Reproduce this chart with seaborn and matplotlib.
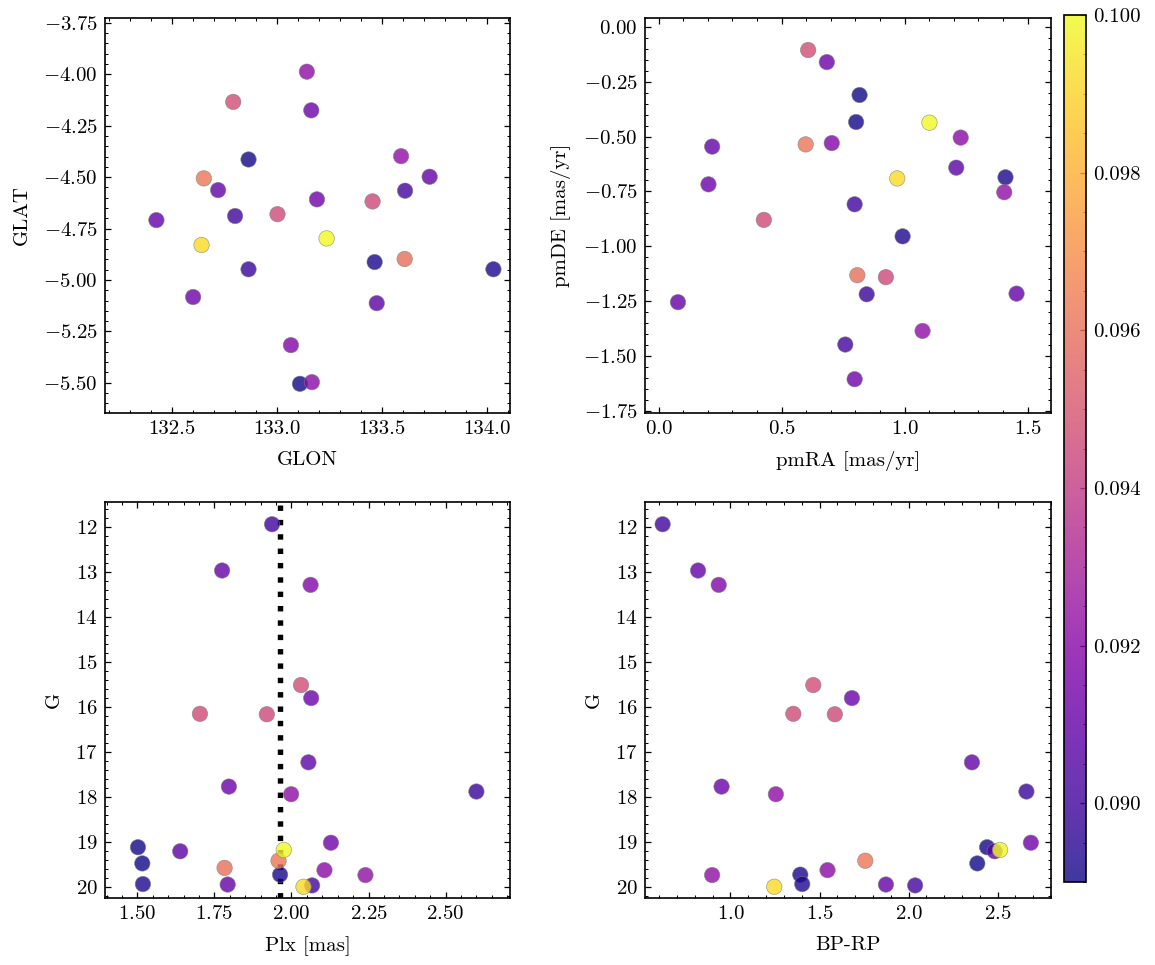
import numpy as np
import pandas as pd
import matplotlib
matplotlib.use("Agg")
import matplotlib.pyplot as plt
import seaborn as sns
from matplotlib.ticker import FormatStrFormatter, MultipleLocator

# ---- data (one entry per star) ----
glon = [132.800, 132.864, 133.610, 132.864, 133.109, 133.465, 134.031,
        132.425, 132.600, 132.719, 133.163, 133.190, 133.475, 133.727,
        133.066, 133.142, 133.166, 133.591, 132.791, 133.002, 133.455,
        132.651, 133.608, 132.640, 133.236]
glat = [-4.689, -4.948, -4.566, -4.414, -5.505, -4.913, -4.948,
        -4.709, -5.083, -4.563, -4.175, -4.608, -5.113, -4.498,
        -5.317, -3.987, -5.497, -4.398, -4.134, -4.680, -4.618,
        -4.506, -4.898, -4.830, -4.798]
pmra = [0.797, 0.846, 0.759, 0.803, 0.817, 1.410, 0.992,
        0.079, 0.203, 0.218, 0.684, 0.797, 1.210, 1.455,
        0.704, 1.073, 1.228, 1.405, 0.608, 0.428, 0.924,
        0.598, 0.808, 0.970, 1.101]
pmde = [-0.809, -1.219, -1.448, -0.434, -0.311, -0.686, -0.955,
        -1.255, -0.718, -0.546, -0.161, -1.606, -0.642, -1.216,
        -0.530, -1.386, -0.505, -0.754, -0.106, -0.880, -1.141,
        -0.536, -1.132, -0.691, -0.437]
plx = [1.937, 2.600, 2.067, 1.502, 1.516, 1.963, 1.518,
       1.775, 2.064, 2.055, 1.797, 2.128, 1.639, 1.793,
       2.062, 1.999, 2.107, 2.240, 2.031, 1.703, 1.920,
       1.958, 1.783, 2.039, 1.975]
gmag = [11.93, 17.88, 19.97, 19.12, 19.48, 19.73, 19.94,
        12.96, 15.80, 17.23, 17.77, 19.02, 19.21, 19.95,
        13.28, 17.94, 19.63, 19.74, 15.51, 16.15, 16.16,
        19.42, 19.58, 20.00, 19.18]
bprp = [0.619, 2.662, 2.037, 2.441, 2.386, 1.392, 1.403,
        0.818, 1.682, 2.356, 0.950, 2.687, 2.484, 1.873,
        0.934, 1.255, 1.545, 0.897, 1.465, 1.353, 1.586,
        1.757, np.nan, 1.246, 2.514]
value = [0.0900, 0.0899, 0.0901, 0.0891, 0.0890, 0.0892, 0.0893,
         0.0910, 0.0912, 0.0909, 0.0912, 0.0913, 0.0908, 0.0910,
         0.0918, 0.0922, 0.0921, 0.0923, 0.0947, 0.0946, 0.0945,
         0.0962, 0.0960, 0.0992, 0.1000]
plx_ref = 1.963

df = pd.DataFrame({"GLON": glon, "GLAT": glat, "pmRA": pmra, "pmDE": pmde,
                   "Plx": plx, "G": gmag, "BPRP": bprp, "val": value})

sns.set_style("ticks")
FS = 10
plt.rcParams.update({
    "font.family": "serif",
    "font.serif": ["cmr10", "DejaVu Serif"],
    "mathtext.fontset": "cm",
    "axes.formatter.use_mathtext": True,
    "font.size": FS,
    "axes.labelsize": FS,
    "xtick.labelsize": FS,
    "ytick.labelsize": FS,
    "text.color": "black",
    "axes.labelcolor": "black",
    "axes.linewidth": 0.8,
    "axes.edgecolor": "black",
    "xtick.direction": "in", "ytick.direction": "in",
    "xtick.top": True, "ytick.right": True,
    "xtick.major.size": 3, "ytick.major.size": 3,
    "xtick.minor.size": 1.5, "ytick.minor.size": 1.5,
    "xtick.major.width": 0.6, "ytick.major.width": 0.6,
    "xtick.minor.width": 0.5, "ytick.minor.width": 0.5,
    "xtick.color": "black", "ytick.color": "black",
    "xtick.labelcolor": "black", "ytick.labelcolor": "black",
    "axes.labelpad": 6,
})

W, H = 1155, 965
fig = plt.figure(figsize=(W / 150, H / 150), dpi=150)

def px_axes(l, t, r, b):
    return fig.add_axes([l / W, 1 - b / H, (r - l) / W, (b - t) / H])

ax1 = px_axes(105, 18, 510, 413)
ax2 = px_axes(645, 18, 1051, 413)
ax3 = px_axes(105, 502, 510, 898)
ax4 = px_axes(645, 502, 1051, 898)
cax = px_axes(1064, 15, 1086, 882)

vmin, vmax = 0.0890, 0.1000
kw = dict(hue="val", palette="plasma", hue_norm=(vmin, vmax), s=55, alpha=0.8,
          edgecolor="gray", linewidth=0.3, legend=False)

sns.scatterplot(data=df, x="GLON", y="GLAT", ax=ax1, **kw)
sns.scatterplot(data=df, x="pmRA", y="pmDE", ax=ax2, **kw)
ax3.axvline(plx_ref, color="black", linestyle=":", linewidth=2.6, zorder=1)
sns.scatterplot(data=df, x="Plx", y="G", ax=ax3, zorder=2, **kw)
sns.scatterplot(data=df.dropna(subset=["BPRP"]), x="BPRP", y="G", ax=ax4, **kw)

ax1.set_xlim(132.18, 134.11); ax1.set_ylim(-5.647, -3.726)
ax2.set_xlim(-0.055, 1.595); ax2.set_ylim(-1.76, 0.04)
ax3.set_xlim(1.395, 2.709); ax3.set_ylim(20.25, 11.435)
ax4.set_xlim(0.52, 2.80); ax4.set_ylim(20.25, 11.435)

ax1.set_xlabel("GLON"); ax1.set_ylabel("GLAT")
ax2.set_xlabel("pmRA [mas/yr]"); ax2.set_ylabel("pmDE [mas/yr]")
ax3.set_xlabel("Plx [mas]"); ax3.set_ylabel("G")
ax4.set_xlabel("BP-RP"); ax4.set_ylabel("G")

ax1.xaxis.set_major_locator(MultipleLocator(0.5))
ax1.xaxis.set_major_formatter(FormatStrFormatter("%.1f"))
ax1.yaxis.set_major_locator(MultipleLocator(0.25))
ax2.xaxis.set_major_locator(MultipleLocator(0.5))
ax2.yaxis.set_major_locator(MultipleLocator(0.25))
ax3.xaxis.set_major_locator(MultipleLocator(0.25))
ax3.yaxis.set_major_locator(MultipleLocator(1))
ax4.xaxis.set_major_locator(MultipleLocator(0.5))
ax4.yaxis.set_major_locator(MultipleLocator(1))

for ax in (ax1, ax2, ax3, ax4):
    ax.minorticks_on()
    ax.tick_params(which="both", direction="in", top=True, right=True)
    for sp in ax.spines.values():
        sp.set_visible(True)
        sp.set_linewidth(0.8)

sm = plt.cm.ScalarMappable(cmap="plasma", norm=plt.Normalize(vmin, vmax))
sm.set_array([])
cb = fig.colorbar(sm, cax=cax, alpha=0.8)
cb.set_ticks([0.090, 0.092, 0.094, 0.096, 0.098, 0.100])
cb.ax.yaxis.set_major_formatter(FormatStrFormatter("%.3f"))
cb.ax.yaxis.set_minor_locator(MultipleLocator(0.0005))
cb.ax.tick_params(which="both", direction="in")
cb.outline.set_linewidth(0.8)

fig.savefig("out.png", dpi=150)
